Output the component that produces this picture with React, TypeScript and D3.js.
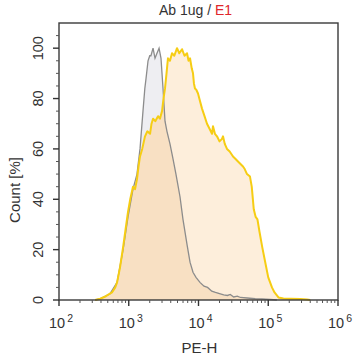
import React from "react";
import * as d3 from "d3";

const yellowSeries: [number, number][] = [
  [330, 0], [390, 0.5], [470, 1.5], [575, 3], [640, 5], [680, 7], [750, 13], [830, 21], [900, 28], [976, 35],
  [1050, 40], [1150, 45], [1230, 44], [1313, 48], [1380, 53], [1450, 57], [1560, 60], [1710, 65], [1850, 67],
  [2020, 66], [2120, 70], [2230, 72], [2400, 71], [2630, 73], [2800, 72], [3000, 75], [3150, 80], [3310, 84],
  [3480, 90], [3650, 96], [3900, 95], [4170, 98], [4500, 97], [4920, 100], [5300, 98], [5800, 99.6], [6300, 97],
  [6850, 98], [7200, 95], [7560, 96], [8000, 92], [8340, 90], [8600, 86], [8900, 84], [9300, 83.5], [9840, 82],
  [10500, 79], [11230, 76], [12200, 73], [13240, 70], [14400, 68], [15620, 66], [16140, 69], [17200, 66],
  [18420, 65], [20000, 63], [21720, 64], [22450, 65], [23800, 62], [25620, 60], [28000, 59], [31250, 57],
  [34000, 56], [36840, 55], [40000, 54], [43450, 53], [46000, 52], [49590, 50], [54700, 49], [58000, 45],
  [62000, 36], [66000, 33], [70000, 32], [75000, 27], [82000, 21], [92000, 14], [100000, 9], [113000, 5],
  [123000, 3], [140000, 1], [165000, 0.6], [210000, 0.5], [290000, 0.4], [360000, 0.2], [400000, 0],
];

const graySeries: [number, number][] = [
  [330, 0], [390, 0.5], [540, 2.5], [680, 7], [830, 20], [976, 33], [1150, 44], [1313, 50], [1450, 60],
  [1600, 75], [1700, 84], [1770, 88], [1890, 95], [2000, 97], [2080, 97], [2230, 100], [2380, 96], [2540, 98],
  [2720, 100], [2900, 96], [3100, 84], [3310, 71], [3530, 67], [3900, 62], [4310, 56], [4750, 50], [5430, 41],
  [5990, 32], [6850, 22], [7560, 15], [8340, 11], [9210, 9], [10500, 7], [12000, 5.5], [13500, 5], [15500, 3.5],
  [17500, 3], [20000, 2.5], [23000, 2], [26000, 1.8], [28500, 2.2], [32000, 1.2], [36000, 1.5], [40000, 1],
  [50000, 0.8], [65000, 0.5], [81000, 0.4], [106000, 0.2], [133000, 0],
];

const xMajorExponents = [2, 3, 4, 5, 6];
const yMajorTicks = [0, 20, 40, 60, 80, 100];
const titleMain = "Ab 1ug / ";
const titleRed = "E1";
const xLabel = "PE-H";
const yLabel = "Count [%]";

export default function App() {
  const W = 357, H = 360;
  const left = 59, right = 338, top = 23, bottom = 300;
  const x = d3.scaleLog().domain([100, 1e6]).range([left, right]);
  const y = d3.scaleLinear().domain([0, 110]).range([bottom, top]);

  const area = d3.area<[number, number]>().x(d => x(d[0])).y0(y(0)).y1(d => y(d[1]));
  const line = d3.line<[number, number]>().x(d => x(d[0])).y(d => y(d[1]));

  const xMinor: number[] = [];
  for (let e = 2; e < 6; e++) for (let m = 2; m <= 9; m++) xMinor.push(m * Math.pow(10, e));
  const yMinor: number[] = [];
  for (let v = 0; v <= 105; v += 5) if (v % 20 !== 0) yMinor.push(v);

  const font = "'Liberation Sans', Arial, sans-serif";
  const txt = "#333";
  const yArea = area(yellowSeries) || "";
  const gArea = area(graySeries) || "";

  return (
    <svg width={W} height={H} style={{ position: "absolute", left: 0, top: 0 }} fontFamily={font}>
      <defs>
        <clipPath id="yclip">
          <path d={yArea} />
        </clipPath>
      </defs>
      <rect x={0} y={0} width={W} height={H} fill="#fff" />
      <text x={(left + right) / 2 - 3} y={15} textAnchor="middle" fontSize={14} fill={txt}>
        {titleMain}<tspan fill="#e0262b">{titleRed}</tspan>
      </text>
      <path d={gArea} fill="#eeeef2" />
      <path d={yArea} fill="#fdeedb" />
      <path d={gArea} fill="#f8e0c3" clipPath="url(#yclip)" />
      <path d={line(graySeries) || ""} fill="none" stroke="#8c8c8c" strokeWidth={1.3} />
      <path d={line(yellowSeries) || ""} fill="none" stroke="#f6cd14" strokeWidth={2} strokeLinejoin="round" />
      <rect x={left} y={top} width={right - left} height={bottom - top} fill="none" stroke="#3a3a3a" strokeWidth={1.4} />
      {xMajorExponents.map(e => {
        const px = x(Math.pow(10, e));
        return (
          <g key={"xm" + e}>
            <line x1={px} x2={px} y1={bottom} y2={bottom + 6} stroke="#333" strokeWidth={1.4} />
            <text x={px + 2} y={328} textAnchor="middle" fontSize={14.5} fill={txt}>
              10<tspan fontSize={10.5} dy={-6} dx={2}>{e}</tspan>
            </text>
          </g>
        );
      })}
      {xMinor.map(v => (
        <line key={"xn" + v} x1={x(v)} x2={x(v)} y1={bottom} y2={bottom + 3} stroke="#555" strokeWidth={1} />
      ))}
      {yMajorTicks.map(v => (
        <g key={"ym" + v}>
          <line x1={left - 6} x2={left} y1={y(v)} y2={y(v)} stroke="#333" strokeWidth={1.4} />
          <text transform={`translate(${43},${y(v)}) rotate(-90)`} textAnchor="middle" fontSize={14.5} fill={txt}>
            {v}
          </text>
        </g>
      ))}
      {yMinor.map(v => (
        <line key={"yn" + v} x1={left - 3} x2={left} y1={y(v)} y2={y(v)} stroke="#555" strokeWidth={1} />
      ))}
      <text x={(left + right) / 2 + 1} y={353} textAnchor="middle" fontSize={15} fill={txt}>{xLabel}</text>
      <text transform={`translate(20,${190}) rotate(-90)`} textAnchor="middle" fontSize={15} fill={txt}>{yLabel}</text>
    </svg>
  );
}
